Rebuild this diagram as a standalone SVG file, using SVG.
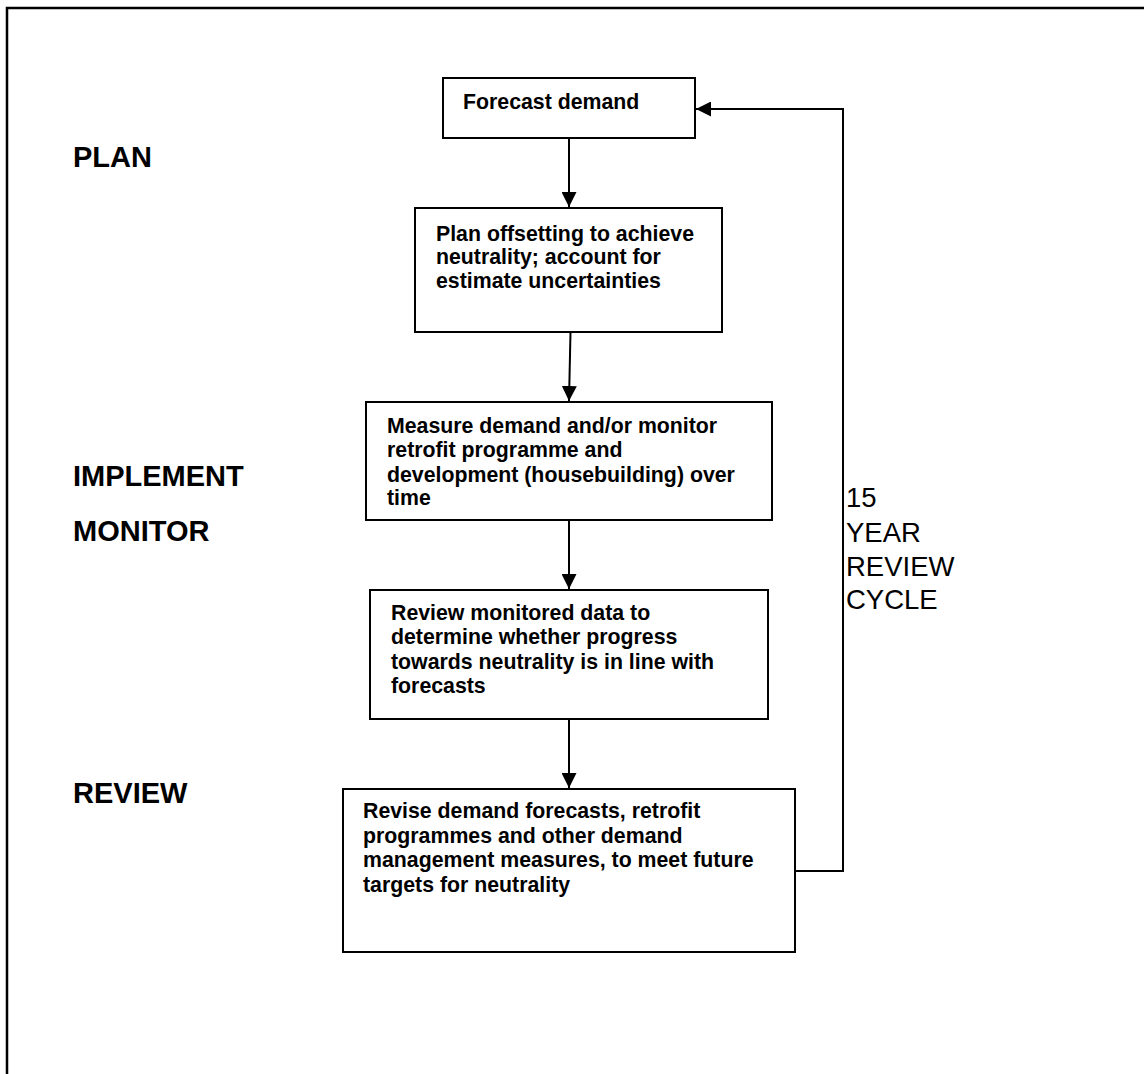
<svg xmlns="http://www.w3.org/2000/svg" width="1144" height="1074" viewBox="0 0 1144 1074">
<style>
.box{fill:#fff;stroke:#000;stroke-width:2}
.t{font-family:"Liberation Sans",Arial,sans-serif;font-weight:bold;font-size:21.3px;fill:#000}
.lab{font-family:"Liberation Sans",Arial,sans-serif;font-weight:bold;font-size:29px;fill:#000}
.cyc{font-family:"Liberation Sans",Arial,sans-serif;font-size:27.5px;fill:#000}
.c{fill:none;stroke:#000;stroke-width:2}
</style>
<defs>
<marker id="ah" viewBox="0 0 10 10" refX="10" refY="5" markerWidth="15" markerHeight="15" markerUnits="userSpaceOnUse" orient="auto">
<path d="M0,0 L10,5 L0,10 Z" fill="#000"/>
</marker>
</defs>
<rect width="1144" height="1074" fill="#fff"/>
<path d="M7,1074 V8 H1144" fill="none" stroke="#000" stroke-width="2.5"/>
<g id="labels">
<text class="lab" x="73" y="167">PLAN</text>
<text class="lab" x="73" y="486">IMPLEMENT</text>
<text class="lab" x="73" y="541">MONITOR</text>
<text class="lab" x="73" y="803">REVIEW</text>
</g>
<g id="connectors">
<line class="c" x1="569" y1="138" x2="569" y2="207" marker-end="url(#ah)"/>
<line class="c" x1="570.5" y1="332" x2="569" y2="401" marker-end="url(#ah)"/>
<line class="c" x1="569" y1="520" x2="569" y2="589" marker-end="url(#ah)"/>
<line class="c" x1="569" y1="719" x2="569" y2="788" marker-end="url(#ah)"/>
<path class="c" d="M795,871 H843 V109 H696" marker-end="url(#ah)"/>
<g id="cycle-label">
<text class="cyc" x="846" y="507">15</text>
<text class="cyc" x="846" y="542">YEAR</text>
<text class="cyc" x="846" y="576">REVIEW</text>
<text class="cyc" x="846" y="609">CYCLE</text>
</g>
</g>
<g id="n1">
<rect class="box" x="443" y="78" width="252" height="60"/>
<text class="t" x="463" y="109">Forecast demand</text>
</g>
<g id="n2">
<rect class="box" x="415" y="208" width="307" height="124"/>
<text class="t" x="436" y="241">Plan offsetting to achieve</text>
<text class="t" x="436" y="264">neutrality; account for</text>
<text class="t" x="436" y="288">estimate uncertainties</text>
</g>
<g id="n3">
<rect class="box" x="366" y="402" width="406" height="118"/>
<text class="t" x="387" y="433">Measure demand and/or monitor</text>
<text class="t" x="387" y="457">retrofit programme and</text>
<text class="t" x="387" y="482">development (housebuilding) over</text>
<text class="t" x="387" y="505">time</text>
</g>
<g id="n4">
<rect class="box" x="370" y="590" width="398" height="129"/>
<text class="t" x="391" y="620">Review monitored data to</text>
<text class="t" x="391" y="644">determine whether progress</text>
<text class="t" x="391" y="669">towards neutrality is in line with</text>
<text class="t" x="391" y="693">forecasts</text>
</g>
<g id="n5">
<rect class="box" x="343" y="789" width="452" height="163"/>
<text class="t" x="363" y="818">Revise demand forecasts, retrofit</text>
<text class="t" x="363" y="843">programmes and other demand</text>
<text class="t" x="363" y="867">management measures, to meet future</text>
<text class="t" x="363" y="892">targets for neutrality</text>
</g>
</svg>
